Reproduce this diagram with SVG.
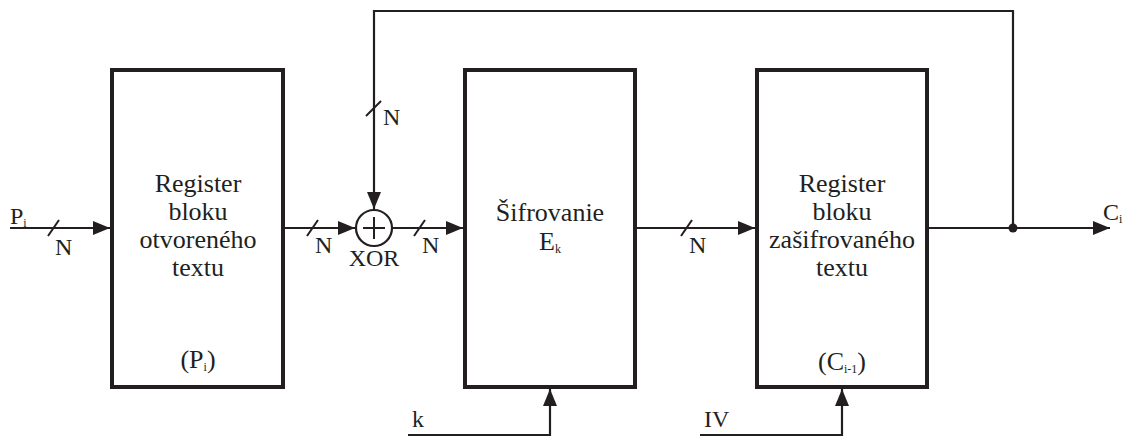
<svg xmlns="http://www.w3.org/2000/svg" width="1128" height="439" viewBox="0 0 1128 439" font-family="'Liberation Serif', Tinos, 'Times New Roman', 'DejaVu Serif', 'Noto Serif', serif">
<style>
text{font-family:'Liberation Serif', Tinos, 'Times New Roman', 'DejaVu Serif', 'Noto Serif', serif;fill:#231f20}
.t{font-size:26px;text-anchor:middle}
.n{font-size:24px}
.sub{font-size:12px}
.box{fill:#fff;stroke:#231f20;stroke-width:4}
.w{fill:none;stroke:#231f20;stroke-width:2.2}
.sl{fill:none;stroke:#231f20;stroke-width:2}
</style>
<defs>
<marker id="ah" markerWidth="17" markerHeight="14" refX="17" refY="7" orient="auto" markerUnits="userSpaceOnUse">
<path d="M0,0 L17,7 L0,14 Z" fill="#231f20"/>
</marker>
</defs>

<g id="connectors">
<line class="w" x1="10" y1="228" x2="110" y2="228" marker-end="url(#ah)"/>
<line class="sl" x1="48" y1="236" x2="59" y2="220"/>
<line class="w" x1="285" y1="228" x2="355" y2="228" marker-end="url(#ah)"/>
<line class="sl" x1="307" y1="236" x2="318" y2="220"/>
<line class="w" x1="392" y1="228" x2="463" y2="228" marker-end="url(#ah)"/>
<line class="sl" x1="414" y1="236" x2="425" y2="220"/>
<line class="w" x1="637" y1="228" x2="755" y2="228" marker-end="url(#ah)"/>
<line class="sl" x1="681" y1="236" x2="692" y2="220"/>
<line class="w" x1="929" y1="228" x2="1110" y2="228" marker-end="url(#ah)"/>
<circle cx="1013" cy="228" r="4.5" fill="#231f20"/>
<polyline class="w" points="1013,228 1013,11 374,11 374,209" marker-end="url(#ah)"/>
<line class="sl" x1="366" y1="116" x2="381" y2="101"/>
<polyline class="w" points="408,435 550,435 550,389" stroke-width="2.6" marker-end="url(#ah)"/>
<polyline class="w" points="700,435 842,435 842,389" stroke-width="2.6" marker-end="url(#ah)"/>
<text class="n" x="383" y="125">N</text>
<text class="n" x="55" y="255">N</text>
<text class="n" x="315" y="253">N</text>
<text class="n" x="422" y="253">N</text>
<text class="n" x="689" y="253">N</text>
<text class="n" x="10" y="224">P<tspan class="sub" dy="3">i</tspan></text>
<text class="n" x="1103" y="220">C<tspan class="sub" dy="3">i</tspan></text>
<text class="n" x="412" y="427">k</text>
<text class="n" x="704" y="427">IV</text>
</g>

<g id="xor">
<circle cx="374" cy="228" r="18" fill="#fff" stroke="#231f20" stroke-width="2.2"/>
<line class="sl" x1="363" y1="228" x2="385" y2="228"/>
<line class="sl" x1="374" y1="217" x2="374" y2="239"/>
<text class="n" x="374" y="266" text-anchor="middle">XOR</text>
</g>

<g id="reg-plain">
<rect class="box" x="112" y="70" width="171" height="317"/>
<text class="t" x="198" y="192">Register</text>
<text class="t" x="198" y="220">bloku</text>
<text class="t" x="198" y="248">otvoreného</text>
<text class="t" x="198" y="276">textu</text>
<text class="t" x="198" y="368">(P<tspan class="sub" dy="3">i</tspan><tspan dy="-3">)</tspan></text>
</g>

<g id="encrypt">
<rect class="box" x="465" y="70" width="170" height="317"/>
<text class="t" x="550" y="221">Šifrovanie</text>
<text class="t" x="550" y="250">E<tspan class="sub" dy="3">k</tspan></text>
</g>

<g id="reg-cipher">
<rect class="box" x="757" y="70" width="170" height="317"/>
<text class="t" x="842" y="192">Register</text>
<text class="t" x="842" y="220">bloku</text>
<text class="t" x="842" y="248">zašifrovaného</text>
<text class="t" x="842" y="276">textu</text>
<text class="t" x="842" y="370">(C<tspan class="sub" dy="3">i-1</tspan><tspan dy="-3">)</tspan></text>
</g>
</svg>
